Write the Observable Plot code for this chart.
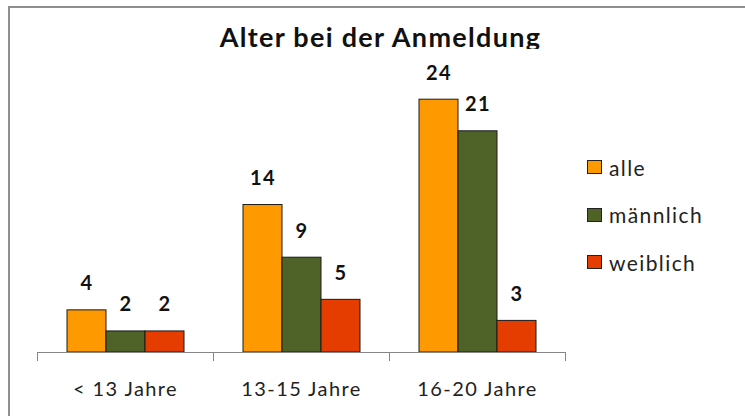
<!DOCTYPE html>
<html><head><meta charset="utf-8">
<script src="https://cdn.jsdelivr.net/npm/d3@7"></script>
<script src="https://cdn.jsdelivr.net/npm/@observablehq/plot@0.6"></script>
<style>
body{margin:0;background:#fff;font-family:Lato,"Open Sans",sans-serif}
#wrap{position:relative;width:745px;height:416px;overflow:hidden;background:#fff}
#frame{position:absolute;left:8px;top:6px;width:760px;height:440px;border-top:2px solid #8f8f8f;border-left:2px solid #8f8f8f;box-sizing:border-box}
#titleclip{position:absolute;left:0;top:0;width:761px;height:49px;overflow:hidden}
#title{position:absolute;left:0;top:23px;width:761px;text-align:center;font-size:27px;line-height:27px;font-weight:bold;letter-spacing:1.3px;color:#111}
#chart{position:absolute;left:0;top:0}
#legend{position:absolute;left:587px;top:157px}
.li{display:flex;align-items:center;height:20px;margin-bottom:27.5px;font-size:21px;letter-spacing:1.4px;color:#222}
.sw{width:13px;height:12px;border:1px solid #222;margin-right:7px}
</style></head><body>
<div id="wrap">
  <div id="frame"></div>
  <div id="titleclip"><div id="title">Alter bei der Anmeldung</div></div>
  <div id="chart"></div>
  <div id="legend"></div>
</div>
<script>
const categories = ["< 13 Jahre", "13-15 Jahre", "16-20 Jahre"];
const seriesNames = ["alle", "männlich", "weiblich"];
const alle = [4, 14, 24];
const maennlich = [2, 9, 21];
const weiblich = [2, 5, 3];
const seriesColors = ["#FF9900", "#4F6228", "#E53C00"];
const yDomain = [0, 30];

const seriesValues = [alle, maennlich, weiblich];
const data = categories.flatMap((c, i) =>
  seriesNames.map((s, j) => ({cat: c, series: s, value: seriesValues[j][i]}))
);

const W = 745, H = 416, mT = 36, mB = 64, mL = 36, mR = 179;
const innerH = H - mT - mB;

const chart = Plot.plot({
  width: W, height: H,
  marginLeft: mL, marginRight: mR, marginTop: mT, marginBottom: mB,
  style: {fontFamily: "Lato, sans-serif", fontSize: "20px", letterSpacing: "1.4px", background: "transparent", color: "#222", overflow: "visible"},
  fx: {domain: categories, padding: 0, label: null, tickSize: 0, tickPadding: 29, axis: "bottom"},
  x: {domain: seriesNames, paddingInner: 0, paddingOuter: 0.745, axis: null},
  y: {domain: yDomain, axis: null},
  color: {domain: seriesNames, range: seriesColors},
  marks: [
    Plot.barY(data, {fx: "cat", x: "series", y: "value", fill: "series", stroke: "#1a1a1a", strokeWidth: 1}),
    Plot.ruleY([0], {stroke: "#868686", strokeWidth: 1}),
    Plot.frame({anchor: "left", stroke: "#868686", insetTop: innerH, insetBottom: -8}),
    Plot.frame({anchor: "right", stroke: "#868686", insetTop: innerH, insetBottom: -8}),
    Plot.text(data, {fx: "cat", x: "series", y: "value", text: d => String(d.value), dy: -26.5, fontWeight: "bold", fontSize: 20, fill: "#111"})
  ]
});
document.getElementById("chart").appendChild(chart);

const legend = document.getElementById("legend");
seriesNames.forEach((s, i) => {
  const row = document.createElement("div");
  row.className = "li";
  const sw = document.createElement("div");
  sw.className = "sw";
  sw.style.background = seriesColors[i];
  const t = document.createElement("span");
  t.textContent = s;
  row.appendChild(sw); row.appendChild(t);
  legend.appendChild(row);
});
</script>
</body></html>
